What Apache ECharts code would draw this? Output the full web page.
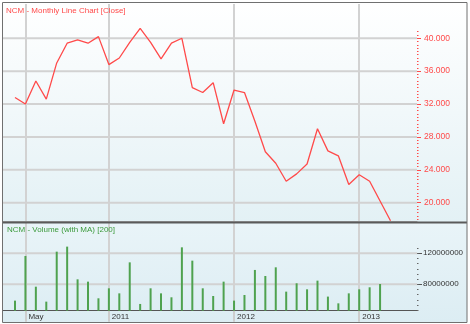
<!DOCTYPE html>
<html>
<head>
<meta charset="utf-8">
<script src="https://cdn.jsdelivr.net/npm/echarts@6/dist/echarts.min.js"></script>
<style>
html,body{margin:0;padding:0;background:#fff}
#wrap{position:relative;width:470px;height:324px}
#bg1{position:absolute;left:3px;top:3px;width:464px;height:219px;background:linear-gradient(#ffffff,#e3f1f5)}
#bg2{position:absolute;left:3px;top:223px;width:464px;height:99px;background:linear-gradient(#e9f4f8,#dcedf3)}
#c{position:absolute;left:0;top:0;width:470px;height:324px}
</style>
</head>
<body>
<div id="wrap"><div id="bg1"></div><div id="bg2"></div><div id="c"></div></div>
<script>
const months = ['2010-04','2010-05','2010-06','2010-07','2010-08','2010-09','2010-10','2010-11','2010-12',
  '2011-01','2011-02','2011-03','2011-04','2011-05','2011-06','2011-07','2011-08','2011-09','2011-10','2011-11','2011-12',
  '2012-01','2012-02','2012-03','2012-04','2012-05','2012-06','2012-07','2012-08','2012-09','2012-10','2012-11','2012-12',
  '2013-01','2013-02','2013-03','2013-04'];
const close = [32.8,32.0,34.8,32.6,37.0,39.4,39.8,39.4,40.2,36.8,37.6,39.5,41.2,39.5,37.5,39.4,40.0,34.0,33.4,34.6,29.6,
  33.7,33.4,29.9,26.2,24.8,22.6,23.5,24.7,29.0,26.3,25.7,22.2,23.4,22.6,20.2,17.8];
const volume = [58.9,116.5,76.9,57.6,122.1,128.6,86.4,83.4,61.9,74.8,68.3,108.3,54.6,74.8,68.3,63.2,127.7,110.5,74.8,64.9,
  83.4,58.9,66.2,98.5,90.7,101.9,70.5,81.3,73.5,84.7,64.1,55.4,68.3,73.5,76.1,80.4].map(v => Math.round(v * 1e6));
const priceTicks = [20,24,28,32,36,40];
const volumeTicks = [80000000,120000000];
const dateTickMonths = ['2010-05','2011-01','2012-01','2013-01'];
const dateTickLabels = ['May','2011','2012','2013'];

const dateTickIdx = dateTickMonths.map(m => months.indexOf(m));
const priceMinor = []; for (let k = 45; k <= 102; k++) priceMinor.push(+(k * 0.4).toFixed(1));
const volMinor = []; for (let k = 7; k <= 19; k++) volMinor.push(k * 20000000 / 3);

const FONT = 'Liberation Sans';
const RED = '#ff4a4a';
const GRIDC = '#d2d2d2';
const chart = echarts.init(document.getElementById('c'), null, {renderer: 'canvas'});
const xMin = -1.15, xMax = 38.54;

// horizontal gridlines: one category-free line series per tick, drawn on a dedicated x axis (0..1) of each grid
function gridLineSeries(vals, xi, yi) {
  return vals.map(v => ({type: 'line', xAxisIndex: xi, yAxisIndex: yi, data: [[0, v], [1, v]],
    symbol: 'none', silent: true, z: 1, clip: false, lineStyle: {color: GRIDC, width: 2, opacity: 1}}));
}
function spanAxis(gi) {
  return {type: 'value', gridIndex: gi, min: 0, max: 1, show: false, position: 'top',
    axisLine: {show: false, onZero: false}, axisTick: {show: false}, axisLabel: {show: false}, splitLine: {show: false}};
}

chart.setOption({
  animation: false,
  backgroundColor: 'transparent',
  title: [
    {text: 'NCM - Monthly Line Chart [Close]', left: 6, top: 7, padding: 0,
     textStyle: {fontFamily: FONT, fontSize: 8, fontWeight: 'normal', color: RED}},
    {text: 'NCM - Volume (with MA) [200]', left: 7, top: 226, padding: 0,
     textStyle: {fontFamily: FONT, fontSize: 8, fontWeight: 'normal', color: '#3c9a3c'}}
  ],
  graphic: [
    {type: 'line', z: 100, silent: true, shape: {x1: 3, y1: 222.5, x2: 467, y2: 222.5},
     style: {stroke: '#5a5a5a', lineWidth: 2}},
    {type: 'rect', z: 100, silent: true, shape: {x: 2.5, y: 2.5, width: 464.5, height: 320},
     style: {fill: null, stroke: '#707070', lineWidth: 1}}
  ],
  grid: [
    {left: 3, right: 53, top: 4, bottom: 103},
    {left: 3, right: 53, top: 223, bottom: 13.3}
  ],
  xAxis: [
    {type: 'value', gridIndex: 0, min: xMin, max: xMax, position: 'bottom',
     axisLine: {show: true, onZero: false, lineStyle: {color: '#a8a8a8', width: 1}},
     axisTick: {show: false, customValues: dateTickIdx},
     axisLabel: {show: false, customValues: dateTickIdx},
     splitLine: {show: true, lineStyle: {color: '#d2d2d2', width: 2}}},
    {type: 'value', gridIndex: 1, min: xMin, max: xMax, position: 'bottom',
     axisLine: {show: true, onZero: false, lineStyle: {color: '#555', width: 1}},
     axisTick: {show: true, customValues: dateTickIdx, length: 11, lineStyle: {color: '#cdcdcd', width: 2}},
     axisLabel: {show: true, customValues: dateTickIdx, margin: 2, align: 'left', padding: [0, 0, 0, 3],
       fontFamily: FONT, fontSize: 8, color: '#333',
       formatter: v => dateTickLabels[dateTickIdx.indexOf(Math.round(v))]},
     splitLine: {show: true, lineStyle: {color: '#d2d2d2', width: 2}}},
    spanAxis(0),
    spanAxis(1)
  ],
  yAxis: [
    {type: 'value', gridIndex: 0, position: 'right', min: 17.77, max: 44.17,
     axisLine: {show: false, onZero: false},
     axisTick: {show: true, customValues: priceTicks, length: 4, lineStyle: {color: RED, width: 1}},
     axisLabel: {show: true, customValues: priceTicks, margin: 7, fontFamily: FONT, fontSize: 8.5, color: RED,
       formatter: v => v.toFixed(3)},
     splitLine: {show: false}},
    {type: 'value', gridIndex: 0, position: 'right', min: 17.77, max: 44.17,
     axisLine: {show: false, onZero: false}, axisLabel: {show: false}, splitLine: {show: false},
     axisTick: {show: true, customValues: priceMinor, length: 1.5, lineStyle: {color: RED, width: 1}}},
    {type: 'value', gridIndex: 1, position: 'right', min: 45900000, max: 159100000,
     axisLine: {show: false, onZero: false},
     axisTick: {show: true, customValues: volumeTicks, length: 5, lineStyle: {color: '#555', width: 1}},
     axisLabel: {show: true, customValues: volumeTicks, margin: 6, fontFamily: FONT, fontSize: 8, color: '#333',
       formatter: v => String(v)},
     splitLine: {show: false}},
    {type: 'value', gridIndex: 1, position: 'right', min: 45900000, max: 159100000,
     axisLine: {show: false, onZero: false}, axisLabel: {show: false}, splitLine: {show: false},
     axisTick: {show: true, customValues: volMinor, length: 1.5, lineStyle: {color: '#666', width: 1}}}
  ],
  series: [
    ...gridLineSeries(priceTicks, 2, 0),
    ...gridLineSeries(volumeTicks, 3, 2),
    {type: 'line', xAxisIndex: 0, yAxisIndex: 0, data: close.map((v, i) => [i, v]),
     symbol: 'none', clip: true, lineStyle: {color: RED, width: 1.3}, z: 5},
    {type: 'bar', xAxisIndex: 1, yAxisIndex: 2, data: volume.map((v, i) => [i, v]),
     barWidth: 2, clip: true, itemStyle: {color: '#4fa24f'}, z: 5}
  ]
});
</script>
</body>
</html>
